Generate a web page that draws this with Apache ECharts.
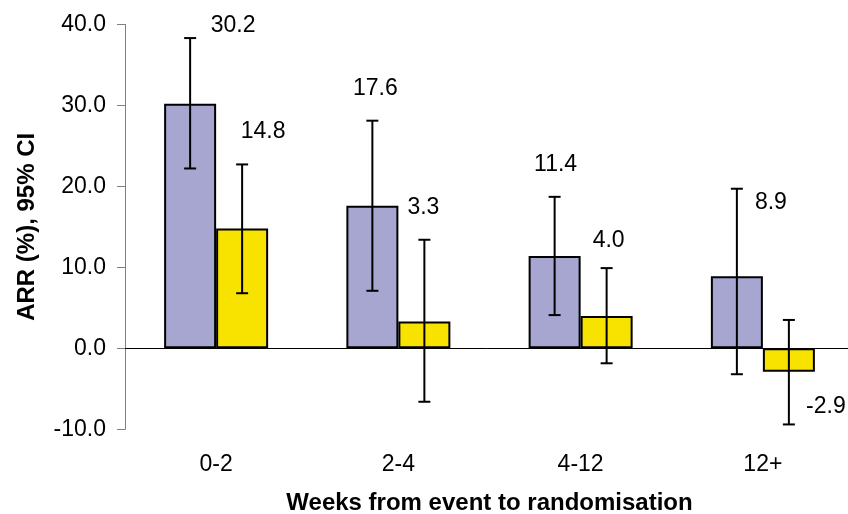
<!DOCTYPE html>
<html>
<head>
<meta charset="utf-8">
<script src="https://cdn.jsdelivr.net/npm/echarts@6/dist/echarts.min.js"></script>
<style>
  html, body { margin: 0; padding: 0; background: #fff; }
  #chart { width: 848px; height: 514px; }
</style>
</head>
<body>
<div id="chart"></div>
<script>
// Absolute risk reduction by time from event to randomisation
const categories = ['0-2', '2-4', '4-12', '12+'];
const yTickValues = [-10, 0, 10, 20, 30, 40];

const lavenderValues = [30.2, 17.6, 11.4, 8.9];
const lavenderLow = [22.2, 7.1, 4.1, -3.2];
const lavenderHigh = [38.3, 28.1, 18.7, 19.7];

const yellowValues = [14.8, 3.3, 4.0, -2.9];
const yellowLow = [6.8, -6.6, -1.85, -9.4];
const yellowHigh = [22.7, 13.4, 9.9, 3.5];

// Label placement (pixel offsets from the top edge centre of each bar)
const lavenderLabelOffsets = [[43, -78], [3, -117], [1, -91], [34, -74]];
const yellowLabelOffsets = [[21, -97], [-1, -114], [2, -75], [37, 58]];

const FONT = 'Liberation Sans, Arial, sans-serif';
const BAR_W = 52;
const CAP = 6;

const chart = echarts.init(document.getElementById('chart'), null, { renderer: 'canvas' });

function barSeries(values, offsets, color) {
  return {
    type: 'bar',
    xAxisIndex: 0,
    barWidth: BAR_W,
    barGap: '0%',
    itemStyle: { color: color, borderColor: '#000', borderWidth: 2 },
    label: {
      show: true,
      position: ['50%', 0],
      align: 'center',
      verticalAlign: 'middle',
      color: '#000',
      fontFamily: FONT,
      fontSize: 23,
      formatter: p => p.value.toFixed(1)
    },
    data: values.map((v, i) => ({ value: v, label: { offset: offsets[i] } })),
    silent: true,
    z: 2
  };
}

function errorSeries(low, high, side) {
  return {
    type: 'custom',
    xAxisIndex: 0,
    encode: { x: 0, y: [1, 2] },
    data: categories.map((c, i) => [i, low[i], high[i]]),
    renderItem: function (params, api) {
      const i = api.value(0);
      const lo = api.coord([i, api.value(1)]);
      const hi = api.coord([i, api.value(2)]);
      const x = lo[0] + side * BAR_W / 2;
      const style = { stroke: '#000', lineWidth: 2 };
      return {
        type: 'group',
        children: [
          { type: 'line', shape: { x1: x, y1: hi[1], x2: x, y2: lo[1] }, style: style },
          { type: 'line', shape: { x1: x - CAP, y1: hi[1], x2: x + CAP, y2: hi[1] }, style: style },
          { type: 'line', shape: { x1: x - CAP, y1: lo[1], x2: x + CAP, y2: lo[1] }, style: style }
        ]
      };
    },
    silent: true,
    z: 5
  };
}

const option = {
  backgroundColor: '#fff',
  animation: false,
  grid: {
    left: 125, right: -6, top: 24.3, bottom: 84.7,
    containLabel: false,
    outerBoundsMode: 'none'
  },
  xAxis: [
    {
      type: 'category',
      data: categories,
      axisLine: { show: true, onZero: true, lineStyle: { color: '#000', width: 1 } },
      axisTick: { show: false },
      axisLabel: { show: false },
      splitLine: { show: false }
    },
    {
      type: 'category',
      data: categories,
      position: 'bottom',
      axisLine: { show: false },
      axisTick: { show: false },
      axisLabel: { show: true, margin: 24, color: '#000', fontFamily: FONT, fontSize: 23 },
      splitLine: { show: false },
      name: 'Weeks from event to randomisation',
      nameLocation: 'middle',
      nameGap: 62,
      nameTextStyle: { color: '#000', fontFamily: FONT, fontSize: 24, fontWeight: 'bold' }
    }
  ],
  yAxis: {
    type: 'value',
    min: yTickValues[0],
    max: yTickValues[yTickValues.length - 1],
    interval: 10,
    axisLine: { show: true, lineStyle: { color: '#808080', width: 1 } },
    axisTick: { show: true, length: 8, lineStyle: { color: '#808080', width: 1 } },
    axisLabel: {
      margin: 19,
      color: '#000',
      fontFamily: FONT,
      fontSize: 23,
      formatter: v => v.toFixed(1)
    },
    splitLine: { show: false },
    name: 'ARR (%), 95% CI',
    nameLocation: 'middle',
    nameGap: 86,
    nameTextStyle: { color: '#000', fontFamily: FONT, fontSize: 24, fontWeight: 'bold' }
  },
  series: [
    barSeries(lavenderValues, lavenderLabelOffsets, '#a6a6d0'),
    barSeries(yellowValues, yellowLabelOffsets, '#f8e200'),
    errorSeries(lavenderLow, lavenderHigh, -1),
    errorSeries(yellowLow, yellowHigh, 1)
  ]
};

chart.setOption(option);
</script>
</body>
</html>
